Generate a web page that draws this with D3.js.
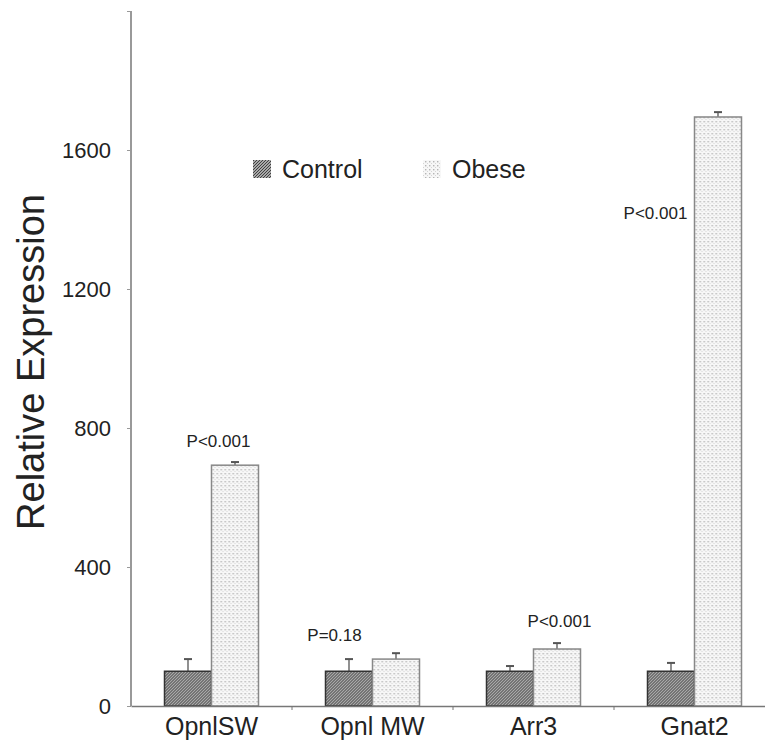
<!DOCTYPE html>
<html>
<head>
<meta charset="utf-8">
<script src="https://cdn.jsdelivr.net/npm/d3@7"></script>
<style>
  body { margin: 0; background: #fff; }
  text { font-family: "Liberation Sans", Arial, sans-serif; fill: #222; }
</style>
</head>
<body>
<div class="chart"></div>
<script>
"use strict";

// DATA ----------------------------
const genes = ["OpnlSW", "Opnl MW", "Arr3", "Gnat2"];
const series = ["Control", "Obese"];
const controlValues = [100, 100, 100, 100];
const controlErrors = [35, 35, 15, 24];
const obeseValues = [693, 135, 164, 1695];
const obeseErrors = [9, 17, 17, 14];
const pLabels = ["P<0.001", "P=0.18", "P<0.001", "P<0.001"];
const yTicks = [0, 400, 800, 1200, 1600, 2000];

const WIDTH = 765, HEIGHT = 747;
const MARGIN = { top: 11, right: -10, bottom: 41, left: 131 };
const BAR_W = 47;

const svg = d3.select(".chart").append("svg")
  .attr("width", WIDTH)
  .attr("height", HEIGHT);

// patterns
const defs = svg.append("defs");
const hatch = defs.append("pattern")
  .attr("id", "hatch")
  .attr("patternUnits", "userSpaceOnUse")
  .attr("width", 3).attr("height", 3);
hatch.append("rect").attr("width", 3).attr("height", 3).attr("fill", "#a8a8a8");
hatch.append("path").attr("d", "M0,3 L3,0 M-1,1 L1,-1 M2,4 L4,2")
  .attr("stroke", "#404040").attr("stroke-width", 1);

const dots = defs.append("pattern")
  .attr("id", "dots")
  .attr("patternUnits", "userSpaceOnUse")
  .attr("width", 4).attr("height", 4);
dots.append("rect").attr("width", 4).attr("height", 4).attr("fill", "#f7f7f7");
dots.append("rect").attr("x", 1).attr("y", 1).attr("width", 1.4).attr("height", 1.4).attr("fill", "#b5b5b5");
dots.append("rect").attr("x", 3).attr("y", 3).attr("width", 1).attr("height", 1).attr("fill", "#d5d5d5");

const fills = { Control: "url(#hatch)", Obese: "url(#dots)" };
const strokes = { Control: "#333", Obese: "#888" };

// scales
const xScale = d3.scaleBand().domain(genes)
  .range([MARGIN.left, WIDTH - MARGIN.right]);
const yScale = d3.scaleLinear().domain([0, 2000])
  .range([HEIGHT - MARGIN.bottom, MARGIN.top]);
const subScale = d3.scaleBand().domain(series).range([-BAR_W, BAR_W]);

const rows = genes.map((g, i) => ({
  gene: g,
  p: pLabels[i],
  bars: [
    { key: "Control", value: controlValues[i], err: controlErrors[i] },
    { key: "Obese", value: obeseValues[i], err: obeseErrors[i] }
  ]
}));

// axes
const yAxis = d3.axisLeft(yScale).tickValues(yTicks)
  .tickSize(4).tickPadding(16)
  .tickFormat((d) => (d === 2000 ? "" : d));
const yGroup = svg.append("g")
  .attr("transform", `translate(${MARGIN.left},0)`)
  .call(yAxis);
yGroup.select(".domain").attr("stroke", "#999").attr("stroke-width", 2)
  .attr("d", `M0,${yScale(2000)}V${yScale(0)}`);
yGroup.selectAll(".tick line").attr("stroke", "#999");
yGroup.selectAll(".tick text").style("font-size", "22px")
  .style("font-family", "'Liberation Sans', Arial, sans-serif").attr("fill", "#222");

// bars
const groups = svg.selectAll(".grp").data(rows).enter().append("g")
  .attr("class", "grp")
  .attr("transform", (d) => `translate(${xScale(d.gene) + xScale.bandwidth() / 2},0)`);

groups.selectAll(".err").data((d) => d.bars).enter().append("g")
  .attr("class", "err")
  .each(function (d) {
    const cx = subScale(d.key) + subScale.bandwidth() / 2;
    const g = d3.select(this);
    g.append("line")
      .attr("x1", cx).attr("x2", cx)
      .attr("y1", yScale(d.value)).attr("y2", yScale(d.value + d.err))
      .attr("stroke", "#555").attr("stroke-width", 1.3);
    g.append("line")
      .attr("x1", cx - 4).attr("x2", cx + 4)
      .attr("y1", yScale(d.value + d.err)).attr("y2", yScale(d.value + d.err))
      .attr("stroke", "#555").attr("stroke-width", 2);
  });

groups.selectAll(".bar").data((d) => d.bars).enter().append("rect")
  .attr("class", "bar")
  .attr("x", (d) => subScale(d.key))
  .attr("width", subScale.bandwidth())
  .attr("y", (d) => yScale(d.value))
  .attr("height", (d) => yScale(0) - yScale(d.value))
  .attr("fill", (d) => fills[d.key])
  .attr("stroke", (d) => strokes[d.key])
  .attr("stroke-width", 1.5);

// x axis
const xAxis = d3.axisBottom(xScale).tickSize(0).tickPadding(11);
const xGroup = svg.append("g")
  .attr("transform", `translate(0,${yScale(0)})`)
  .call(xAxis);
xGroup.select(".domain").attr("stroke", "#777").attr("stroke-width", 1.5);
xGroup.selectAll(".tick text").style("font-size", "25px")
  .style("font-family", "'Liberation Sans', Arial, sans-serif").attr("fill", "#222");
// small separators between groups
xGroup.selectAll(".sep").data(genes.slice(1)).enter().append("line")
  .attr("x1", (d) => xScale(d)).attr("x2", (d) => xScale(d))
  .attr("y1", 0).attr("y2", 4)
  .attr("stroke", "#777");

// p-value labels (offset from group centre, value height)
const pPos = [
  { dx: 7, v: 745 },
  { dx: -38, v: 187 },
  { dx: 26, v: 228 },
  { dx: -39, v: 1402 }
];
groups.append("text")
  .attr("x", (d, i) => pPos[i].dx)
  .attr("y", (d, i) => yScale(pPos[i].v))
  .attr("text-anchor", "middle")
  .style("font-size", "17px")
  .attr("fill", "#333")
  .text((d) => d.p);

// legend
const legend = svg.append("g");
const legX = [253, 423];
series.forEach((s, i) => {
  legend.append("rect")
    .attr("x", legX[i]).attr("y", 160)
    .attr("width", 18).attr("height", 18)
    .attr("fill", fills[s]);
  legend.append("text")
    .attr("x", legX[i] + 29).attr("y", 178)
    .style("font-size", "25px")
    .text(s);
});

// y label
svg.append("text")
  .attr("transform", `translate(44,${362}) rotate(-90)`)
  .attr("text-anchor", "middle")
  .style("font-size", "38px")
  .text("Relative Expression");
</script>
</body>
</html>
